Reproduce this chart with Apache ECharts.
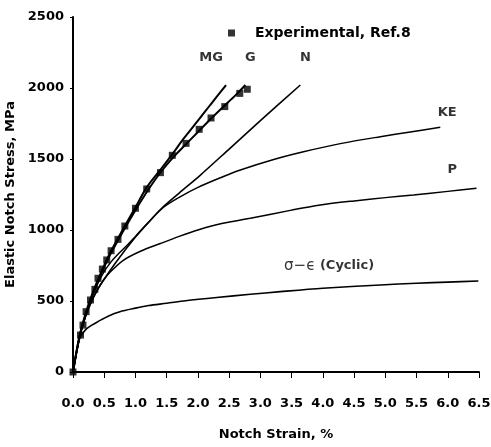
<!DOCTYPE html>
<html>
<head>
<meta charset="utf-8">
<script src="https://cdn.jsdelivr.net/npm/echarts@6/dist/echarts.min.js"></script>
<style>
html, body { margin: 0; padding: 0; background: #fff; }
#chart { width: 491px; height: 447px; }
</style>
</head>
<body>
<div id="chart"></div>
<script>
// experimental points (Ref.8)
let expStrain = [0, 0.12, 0.16, 0.21, 0.28, 0.35, 0.40, 0.47, 0.54, 0.61, 0.72, 0.83, 1.0, 1.18, 1.40, 1.59, 1.81, 2.02, 2.21, 2.43, 2.67, 2.79];
let expStress = [0, 260, 330, 425, 507, 582, 660, 725, 789, 854, 934, 1028, 1153, 1289, 1404, 1526, 1610, 1709, 1789, 1869, 1962, 1991];

let mgStrain = [0, 0.1, 0.2, 0.3, 0.4, 0.5, 0.6, 0.8, 1.0, 1.18, 1.4, 1.6, 1.77, 2.0, 2.2, 2.45];
let mgStress = [0, 245, 410, 540, 650, 750, 845, 1005, 1160, 1300, 1425, 1540, 1643, 1770, 1882, 2021];

let gStrain = [0, 0.1, 0.2, 0.3, 0.4, 0.5, 0.6, 0.8, 1.0, 1.2, 1.4, 1.6, 1.8, 2.0, 2.2, 2.4, 2.6, 2.76];
let gStress = [0, 240, 400, 530, 640, 740, 830, 990, 1140, 1280, 1405, 1510, 1600, 1690, 1780, 1865, 1948, 2021];

let nStrain = [0, 0.1, 0.2, 0.3, 0.4, 0.49, 0.7, 1.0, 1.2, 1.42, 1.7, 2.04, 2.5, 3.0, 3.64];
let nStress = [0, 235, 390, 500, 585, 648, 780, 950, 1050, 1153, 1260, 1387, 1570, 1770, 2021];

let keStrain = [0, 0.1, 0.2, 0.3, 0.4, 0.5, 0.6, 0.7, 0.85, 1.0, 1.2, 1.45, 1.7, 2.0, 2.4, 2.68, 3.2, 3.69, 4.3, 4.92, 5.4, 5.88];
let keStress = [0, 238, 398, 522, 625, 708, 770, 820, 885, 955, 1050, 1160, 1230, 1300, 1375, 1423, 1495, 1551, 1610, 1657, 1690, 1723];

let pStrain = [0, 0.1, 0.2, 0.3, 0.4, 0.49, 0.6, 0.8, 1.08, 1.4, 1.7, 2.0, 2.4, 2.84, 3.5, 3.96, 4.5, 5.0, 5.45, 6.0, 6.46];
let pStress = [0, 235, 390, 500, 585, 648, 706, 785, 850, 905, 955, 1000, 1047, 1082, 1140, 1176, 1205, 1228, 1246, 1272, 1294];

let cyStrain = [0, 0.1, 0.16, 0.22, 0.3, 0.4, 0.57, 0.75, 1.0, 1.21, 1.5, 1.8, 2.3, 2.84, 3.32, 4.0, 4.92, 5.5, 6.0, 6.49];
let cyStress = [0, 228, 275, 305, 330, 355, 395, 425, 450, 468, 484, 502, 525, 547, 566, 590, 613, 625, 633, 641];

// curve labels, placed in data coordinates
let labelNames = ['MG', 'G', 'N', 'KE', 'P', 'cyclic'];
let labelX = [2.21, 2.84, 3.72, 5.99, 6.07, 4.1];
let labelY = [2211, 2211, 2211, 1824, 1423, 746];

function pairs(xs, ys) {
    let out = [];
    for (let i = 0; i < xs.length; i++) {
        out.push([xs[i], ys[i]]);
    }
    return out;
}

const font = 'DejaVu Sans';
const txt = { fontFamily: font, fontWeight: 'bold', fontSize: 13, color: '#000' };
let chart = echarts.init(document.getElementById('chart'));

function curve(name, xs, ys, width) {
    return {
        name: name,
        type: 'line',
        data: pairs(xs, ys),
        showSymbol: false,
        smooth: 0.3,
        lineStyle: { color: '#000', width: width },
        z: 3
    };
}

let labelData = [];
for (let i = 0; i < labelNames.length; i++) {
    labelData.push({ name: labelNames[i], value: [labelX[i], labelY[i]] });
}

chart.setOption({
    animation: false,
    backgroundColor: '#fff',
    grid: { left: 73, right: 12, top: 17, bottom: 75, containLabel: false, outerBoundsMode: 'none' },
    legend: {
        data: [{ name: 'Experimental, Ref.8', icon: 'rect' }],
        left: 223,
        top: 21,
        itemWidth: 7,
        itemHeight: 7,
        textStyle: Object.assign({}, txt, { fontSize: 14, padding: [0, 0, 0, 15] })
    },
    xAxis: {
        type: 'value',
        min: 0,
        max: 6.5,
        interval: 0.5,
        offset: 4,
        name: 'Notch Strain, %',
        nameLocation: 'middle',
        nameGap: 52,
        nameTextStyle: txt,
        axisLine: { lineStyle: { color: '#000', width: 2 } },
        axisTick: { length: 6, lineStyle: { color: '#000', width: 1 } },
        axisLabel: Object.assign({
            margin: 21,
            formatter: function (v) { return v.toFixed(1); }
        }, txt),
        splitLine: { show: false }
    },
    yAxis: {
        type: 'value',
        min: 0,
        max: 2500,
        interval: 500,
        name: 'Elastic Notch Stress, MPa',
        nameLocation: 'middle',
        nameGap: 55,
        nameTextStyle: txt,
        axisLine: { show: true, lineStyle: { color: '#000', width: 2 } },
        axisTick: { show: true, length: 3, lineStyle: { color: '#000' } },
        axisLabel: Object.assign({
            margin: 9,
            formatter: function (v) { return String(v); }
        }, txt),
        splitLine: { show: false }
    },
    series: [
        curve('MG', mgStrain, mgStress, 2),
        curve('G', gStrain, gStress, 2),
        curve('N', nStrain, nStress, 1.6),
        curve('KE', keStrain, keStress, 1.5),
        curve('P', pStrain, pStress, 1.5),
        curve('cyclic', cyStrain, cyStress, 1.6),
        {
            name: 'Experimental, Ref.8',
            type: 'scatter',
            data: pairs(expStrain, expStress),
            symbol: 'rect',
            symbolSize: 7,
            itemStyle: { color: '#000' },
            z: 4
        },
        {
            name: 'labels',
            type: 'scatter',
            data: labelData,
            symbolSize: 0,
            silent: true,
            label: Object.assign({
                show: true,
                position: 'inside',
                formatter: function (p) {
                    if (p.name === 'cyclic') {
                        return '{s|σ−ϵ} (Cyclic)';
                    }
                    return p.name;
                },
                rich: {
                    s: { fontFamily: 'DejaVu Sans', fontWeight: 'normal', fontSize: 15, color: '#000' }
                }
            }, txt)
        }
    ]
});
</script>
</body>
</html>
